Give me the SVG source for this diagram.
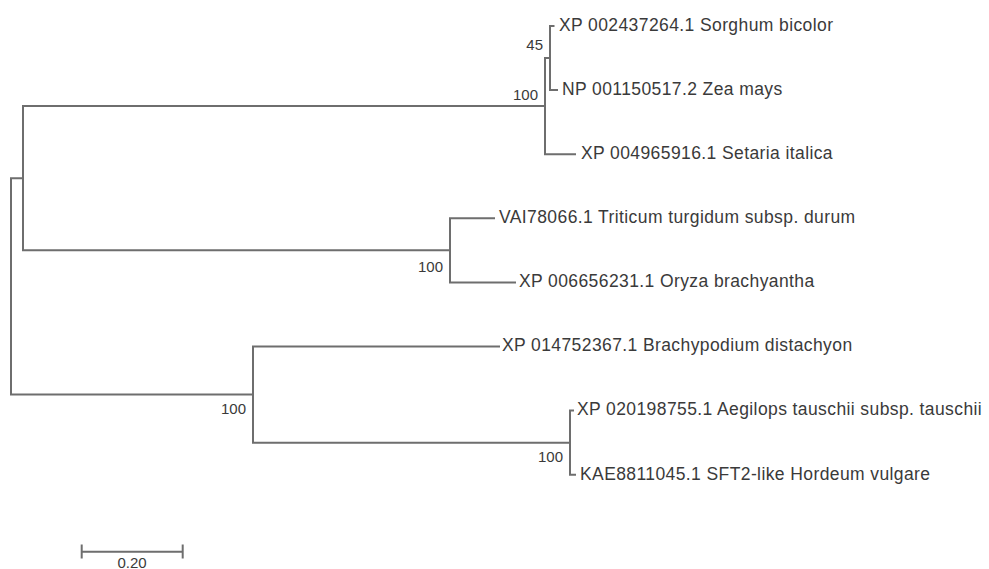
<svg xmlns="http://www.w3.org/2000/svg" width="989" height="569" viewBox="0 0 989 569">
<style>
.br{fill:none;stroke:#6e6e6e;stroke-width:2;stroke-linecap:square}
.tip{font-family:"Liberation Sans",Arial,sans-serif;font-size:17.5px;letter-spacing:0.4px;fill:#3a3a3a}
.bs{font-family:"Liberation Sans",Arial,sans-serif;font-size:15px;fill:#3a3a3a;text-anchor:end}
.sc{font-family:"Liberation Sans",Arial,sans-serif;font-size:15px;fill:#3a3a3a;text-anchor:middle}
</style>
<rect width="989" height="569" fill="#ffffff"/>
<g id="connectors">
<path class="br" d="M11,178.2 V394.6 M11,178.2 H23 M11,394.6 H253"/>
<path class="br" d="M23,106.1 V250.35 M23,106.1 H545 M23,250.35 H450"/>
<path class="br" d="M545,58 V154.2 M545,58 H550 M545,154.2 H575"/>
<path class="br" d="M550,26 V90.1 M550,26 H553.5 M550,90.1 H557"/>
<path class="br" d="M450,218.3 V282.4 M450,218.3 H494 M450,282.4 H515"/>
<path class="br" d="M253,346.5 V442.65 M253,346.5 H499 M253,442.65 H570"/>
<path class="br" d="M570,410.6 V474.7 M570,410.6 H573 M570,474.7 H575"/>
</g>
<g id="tip-sorghum"><text class="tip" x="559" y="31">XP 002437264.1 Sorghum bicolor</text></g>
<g id="tip-zea"><text class="tip" x="562" y="95">NP 001150517.2 Zea mays</text></g>
<g id="tip-setaria"><text class="tip" x="581" y="159">XP 004965916.1 Setaria italica</text></g>
<g id="tip-triticum"><text class="tip" x="499" y="223">VAI78066.1 Triticum turgidum subsp. durum</text></g>
<g id="tip-oryza"><text class="tip" x="519" y="287">XP 006656231.1 Oryza brachyantha</text></g>
<g id="tip-brachypodium"><text class="tip" x="502" y="351">XP 014752367.1 Brachypodium distachyon</text></g>
<g id="tip-aegilops"><text class="tip" x="577" y="415">XP 020198755.1 Aegilops tauschii subsp. tauschii</text></g>
<g id="tip-hordeum"><text class="tip" x="580" y="480">KAE8811045.1 SFT2-like Hordeum vulgare</text></g>
<g id="node-45"><text class="bs" x="543" y="50">45</text></g>
<g id="node-100-top"><text class="bs" x="538" y="100">100</text></g>
<g id="node-100-mid"><text class="bs" x="443" y="272">100</text></g>
<g id="node-100-bottom"><text class="bs" x="246" y="414">100</text></g>
<g id="node-100-sub"><text class="bs" x="563" y="462">100</text></g>
<g id="scale-bar">
<path class="br" d="M81.7,551.7 H182.7 M81.7,545.5 V557.5 M182.7,545.5 V557.5"/>
<text class="sc" x="132" y="567.5">0.20</text>
</g>
</svg>
